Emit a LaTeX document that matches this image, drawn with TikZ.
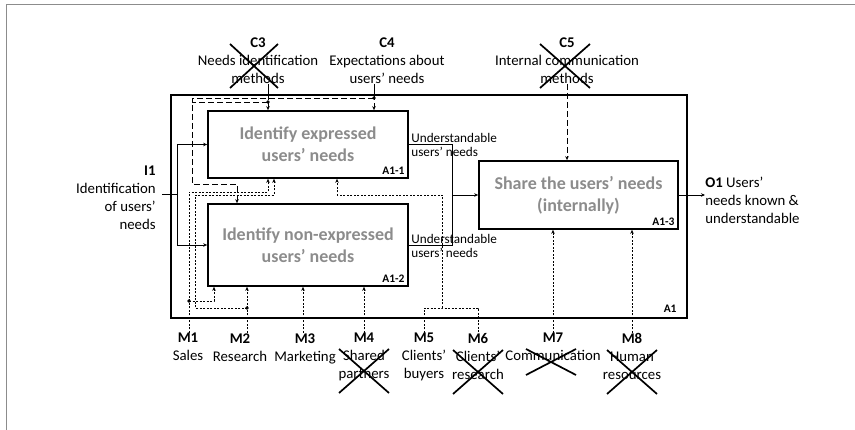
\documentclass[tikz,border=0pt]{standalone}
\usepackage{fontspec}
\setmainfont{Carlito}
\usetikzlibrary{arrows.meta}
\tikzset{
  box/.style={draw,line width=1.7pt,inner sep=2pt,text=black!45,font=\fontsize{18}{22}\selectfont\bfseries,align=center},
  lbl/.style={inner sep=0pt,font=\fontsize{14.8}{18}\selectfont,align=center},
  sml/.style={inner sep=0pt,font=\fontsize{13.2}{14.5}\selectfont,align=left,anchor=west},
  idl/.style={inner sep=4pt,font=\fontsize{11.5}{14}\selectfont\bfseries,anchor=south east},
  arr/.style={-{Stealth[length=4pt,width=3.5pt]}},
  ctl/.style={dash pattern=on 6pt off 3pt},
  mech/.style={dash pattern=on 2pt off 1.5pt},
  xmk/.style={line width=1.7pt}
}
\begin{document}
\begin{tikzpicture}[x=1pt,y=-1pt,line width=0.7pt]
\useasboundingbox (0,0) rectangle (855,430);
\draw[black!45,line width=0.8pt] (6,430) -- (6,4) -- (855,4);
\node[draw,line width=1.8pt,inner sep=0pt,minimum width=516pt,minimum height=223pt] (a1) at (429,206.5) {};
\node[idl,inner xsep=11pt,inner ysep=6pt] (a1id) at (a1.south east) {A1};
\node[box,minimum width=200pt,minimum height=67pt] (a11) at (308,144.5) {Identify expressed\\users' needs};
\node[idl] (a11id) at (a11.south east) {A1-1};
\node[box,minimum width=200pt,minimum height=82pt] (a12) at (308,245) {Identify non-expressed\\users' needs};
\node[idl] (a12id) at (a12.south east) {A1-2};
\node[box,minimum width=199pt,minimum height=68pt] (a13) at (578.5,195) {Share the users' needs\\(internally)};
\node[idl] (a13id) at (a13.south east) {A1-3};
\node[lbl,anchor=south] (c3) at (258,84) {\textbf{C3}\\Needs identification\\methods};
\node[lbl,anchor=south] (c4) at (387,84) {\textbf{C4}\\Expectations about\\users' needs};
\node[lbl,anchor=south] (c5) at (567,84) {\textbf{C5}\\Internal communication\\methods};
\node[lbl,align=right,anchor=east] (i1) at (156,198) {\textbf{I1}\\Identification\\of users'\\needs};
\node[lbl,align=left,anchor=west] (o1) at (705,200) {\textbf{O1} Users'\\needs known \&\\understandable};
\node[sml] (u1) at (411,145) {Understandable\\users' needs};
\node[sml] (u2) at (411,246) {Understandable\\users' needs};
\foreach \n/\x/\t in {m1/188/{\textbf{M1}\\Sales},m2/240/{\textbf{M2}\\Research},m3/305/{\textbf{M3}\\Marketing},
  m4/364/{\textbf{M4}\\Shared\\partners},m5/424/{\textbf{M5}\\Clients'\\buyers},m6/478/{\textbf{M6}\\Clients'\\research},
  m7/553/{\textbf{M7}\\Communication},m8/632/{\textbf{M8}\\Human\\resources}}
  \node[lbl,anchor=north] (\n) at (\x,333) {\t};
\coordinate (iin) at (162,194);
\coordinate (ibus) at (177,194);
\coordinate (oj) at (452,195);
\coordinate (c3j) at (268,102);
\coordinate (c4j) at (374,98);
\coordinate (m1j) at (189,301);
\coordinate (m2j) at (247,308);
\coordinate (m56) at (442,308);
\draw (iin) -- (ibus);
\draw[arr] (ibus) |- (a11.west);
\draw[arr] (ibus) |- (a12.west);
\draw (a11.east) -| (oj);
\draw (a12.east) -| (oj);
\draw[arr] (oj) -- (oj -| a13.west);
\draw[arr] (a13.east) -- (a13.east -| o1.west);
\draw (268,0 |- c3.south) -- (268,0 |- a1.north);
\draw[ctl,arr] (268,0 |- a1.north) -- (268,0 |- a11.north);
\draw (374,0 |- c4.south) -- (374,0 |- a1.north);
\draw[ctl,arr] (374,0 |- a1.north) -- (374,0 |- a11.north);
\draw[ctl] (c3j) -- (192,102);
\draw[ctl,arr] (c4j) -| (192,184) -| (237,0 |- a12.north);
\draw[ctl,arr] (567,0 |- c5.south) -- (567,0 |- a13.north);
\fill (c3j) circle (1.8pt) (c4j) circle (1.8pt) (m1j) circle (1.8pt) (m2j) circle (1.8pt);
\draw[mech,arr] (189,0 |- m1.north) |- (268,192) -- (268,0 |- a11.south);
\draw[mech,arr] (m1j) -| (214,0 |- a12.south);
\draw[mech,arr] (247,0 |- m2.north) -- (247,0 |- a12.south);
\draw[mech,arr] (m2j) -| (195,195) -| (274,0 |- a11.south);
\draw[mech,arr] (303,0 |- m3.north) -- (303,0 |- a12.south);
\draw[mech,arr] (m4.north) -- (m4.north |- a12.south);
\draw[mech] (m5.north) |- (m56) -| (m6.north);
\draw[mech,arr] (m56) |- (337,195) -- (337,0 |- a11.south);
\draw[mech,arr] (m7.north) -- (m7.north |- a13.south);
\draw[mech,arr] (m8.north) -- (m8.north |- a13.south);
\foreach \x/\y/\w/\h in {254/66/24/22,565/66/25/22,364/371/25/22,478/372/25/22,551/362/25/13,632/372/25/22}
  \draw[xmk] (\x-\w,\y-\h) -- (\x+\w,\y+\h) (\x-\w,\y+\h) -- (\x+\w,\y-\h);
\end{tikzpicture}
\end{document}
